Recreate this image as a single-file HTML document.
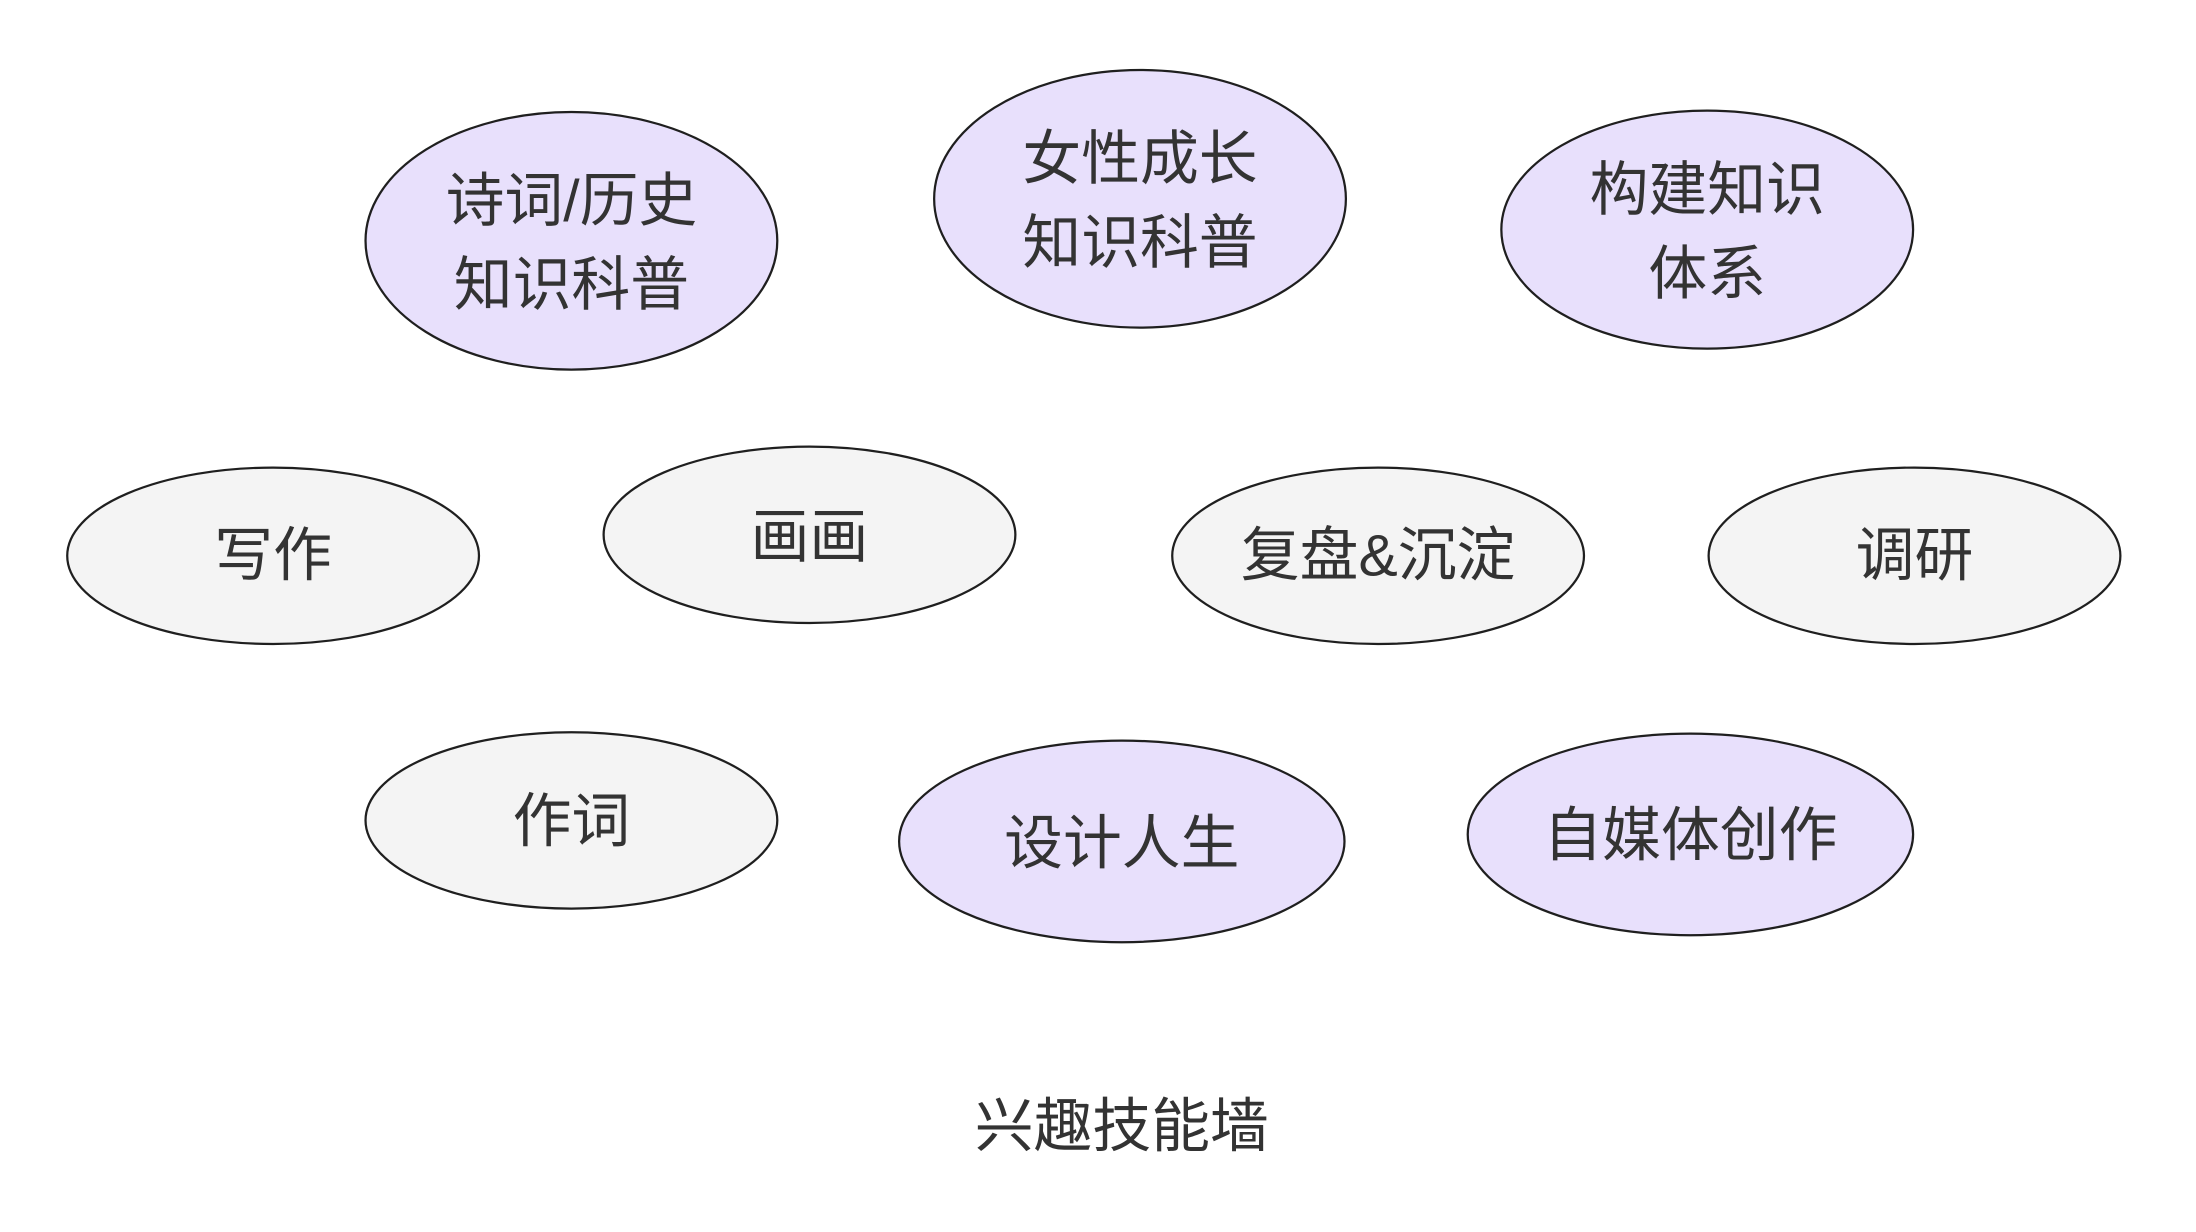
<!DOCTYPE html>
<html><head><meta charset="utf-8"><style>
html,body{margin:0;padding:0;background:#fff;}
svg{display:block;}
text{font-family:"Liberation Sans","Noto Sans CJK SC",sans-serif;fill:#333;text-anchor:middle;dominant-baseline:central;font-size:42px;}
</style></head><body>
<svg width="2196" height="1232" viewBox="0 0 1568 880" preserveAspectRatio="none">
<g stroke="#1f1f1f" stroke-width="1.6">
<ellipse cx="408" cy="172" rx="147" ry="92" fill="#e8e0fc"/>
<ellipse cx="814" cy="142" rx="147" ry="92" fill="#e8e0fc"/>
<ellipse cx="1219" cy="164" rx="147" ry="85" fill="#e8e0fc"/>
<ellipse cx="195" cy="397" rx="147" ry="63" fill="#f4f4f4"/>
<ellipse cx="578" cy="382" rx="147" ry="63" fill="#f4f4f4"/>
<ellipse cx="984" cy="397" rx="147" ry="63" fill="#f4f4f4"/>
<ellipse cx="1367" cy="397" rx="147" ry="63" fill="#f4f4f4"/>
<ellipse cx="408" cy="586" rx="147" ry="63" fill="#f4f4f4"/>
<ellipse cx="801" cy="601" rx="159" ry="72" fill="#e8e0fc"/>
<ellipse cx="1207" cy="596" rx="159" ry="72" fill="#e8e0fc"/>
</g>
<text x="408" y="144">诗词/历史</text>
<text x="408" y="204">知识科普</text>
<text x="814" y="114">女性成长</text>
<text x="814" y="174">知识科普</text>
<text x="1219" y="136">构建知识</text>
<text x="1219" y="196">体系</text>
<text x="195" y="397">写作</text>
<text x="578" y="384">画画</text>
<text x="984" y="397">复盘&amp;沉淀</text>
<text x="1367" y="397">调研</text>
<text x="408" y="587">作词</text>
<text x="801" y="603">设计人生</text>
<text x="1207" y="597">自媒体创作</text>
<text x="801" y="805">兴趣技能墙</text>
</svg>
</body></html>
